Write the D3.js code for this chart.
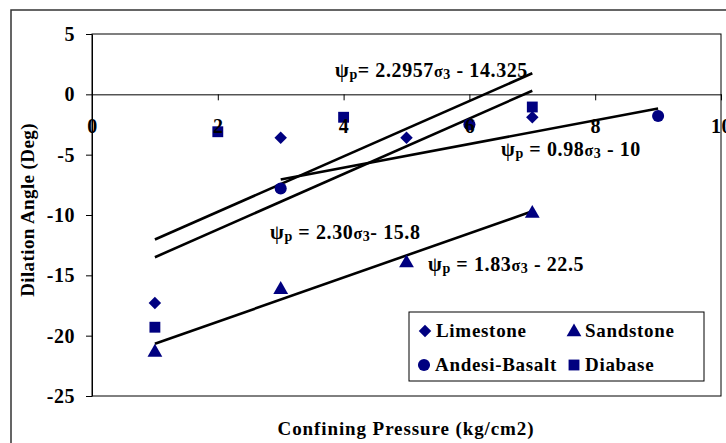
<!DOCTYPE html>
<html>
<head>
<meta charset="UTF-8">
<title></title>
<style>
    body { margin: 0; background: #fff; }
    text { font-family: "Liberation Serif", "Times New Roman", serif; font-weight: bold; }
</style>
</head>
<body>
<div id="chart"></div>
<script src="https://cdn.jsdelivr.net/npm/d3@7/dist/d3.min.js"></script>
<script>
    // data
    var limestoneX = [1, 3, 5, 7];
    var limestoneY = [-17.3, -3.6, -3.6, -1.9];
    var sandstoneX = [1, 3, 5, 7];
    var sandstoneY = [-21.3, -16.1, -13.9, -9.8];
    var andesiteX = [3, 6, 9];
    var andesiteY = [-7.8, -2.5, -1.8];
    var diabaseX = [1, 2, 4, 7];
    var diabaseY = [-19.3, -3.1, -1.9, -1.05];

    // trend lines: slope, intercept, x range
    var trendSlope = [2.2957, 2.30, 0.98, 1.83];
    var trendIntercept = [-14.325, -15.8, -10, -22.5];
    var trendFrom = [1, 1, 3, 1];
    var trendTo = [7, 7, 9, 7];

    var xTicks = [0, 2, 4, 6, 8, 10];
    var yTicks = [-25, -20, -15, -10, -5, 0, 5];

    var width = 726, height = 443;
    var svg = d3.select("#chart").append("svg")
        .attr("width", width)
        .attr("height", height);

    // outer chart frame (runs off the right / bottom edge)
    svg.append("rect")
        .attr("x", 11).attr("y", 10)
        .attr("width", 740).attr("height", 460)
        .attr("fill", "#fff")
        .attr("stroke", "#333").attr("stroke-width", 1.5);

    var x = d3.scaleLinear().domain([0, 10]).range([92, 721]);
    var y = d3.scaleLinear().domain([-25, 5]).range([396, 34]);

    // plot area
    svg.append("rect")
        .attr("x", 92).attr("y", 34)
        .attr("width", 721 - 92).attr("height", 396 - 34)
        .attr("fill", "#fff")
        .attr("stroke", "#000").attr("stroke-width", 1);

    var plain = function (d) { return String(d); };

    // y axis
    var yAxis = svg.append("g")
        .attr("transform", "translate(92,0)")
        .call(d3.axisLeft(y).tickValues(yTicks).tickFormat(plain).tickSize(6).tickPadding(11).tickSizeOuter(0));
    yAxis.select(".domain").attr("stroke", "#000");
    yAxis.selectAll("text").style("font-size", "20px").style("letter-spacing", "0.5px").attr("fill", "#000");

    // trend lines
    var lineGen = d3.line().x(function (d) { return x(d[0]); }).y(function (d) { return y(d[1]); });
    for (var i = 0; i < trendSlope.length; i++) {
        var pts = [trendFrom[i], trendTo[i]].map(function (v) {
            return [v, trendSlope[i] * v + trendIntercept[i]];
        });
        svg.append("path")
            .attr("d", lineGen(pts))
            .attr("fill", "none")
            .attr("stroke", "#000")
            .attr("stroke-width", 2.6);
    }

    // markers
    var navy = "#000080";
    var shapes = {
        diamond: d3.symbol().type(d3.symbolSquare).size(78),
        triangle: d3.symbol().type(d3.symbolTriangle).size(95),
        circle: d3.symbol().type(d3.symbolCircle).size(115),
        square: d3.symbol().type(d3.symbolSquare).size(118)
    };
    var series = [
        {name: "Limestone", xs: limestoneX, ys: limestoneY, shape: "diamond"},
        {name: "Sandstone", xs: sandstoneX, ys: sandstoneY, shape: "triangle"},
        {name: "Andesi-Basalt", xs: andesiteX, ys: andesiteY, shape: "circle"},
        {name: "Diabase", xs: diabaseX, ys: diabaseY, shape: "square"}
    ];

    function place(s, px, py) {
        var t = "translate(" + px + "," + py + ")";
        if (s === "diamond") t += " rotate(45)";
        if (s === "triangle") t += " translate(0,1)";
        return t;
    }

    series.forEach(function (s) {
        svg.append("g").selectAll("path")
            .data(s.xs.map(function (v, k) { return [v, s.ys[k]]; }))
            .join("path")
            .attr("d", shapes[s.shape])
            .attr("fill", navy)
            .attr("transform", function (d) { return place(s.shape, x(d[0]), y(d[1])); });
    });

    // x axis on the zero line, labels drawn over the markers
    var xAxis = svg.append("g")
        .attr("transform", "translate(0," + y(0) + ")")
        .call(d3.axisBottom(x).tickValues(xTicks).tickFormat(plain).tickSize(6).tickPadding(18).tickSizeOuter(0));
    xAxis.select(".domain").attr("stroke", "#000");
    xAxis.selectAll("text").style("font-size", "20px").style("letter-spacing", "0.5px").attr("fill", "#000");

    // equation labels: [text, kind] kind 0 normal, 1 subscript, 2 sigma
    var eqs = [
        {x: 335, y: 77, parts: [["ψ", 0], ["p", 1], ["= 2.2957", 0], ["σ", 2], ["3", 1], [" - 14.325", 0]]},
        {x: 501, y: 156, parts: [["ψ", 0], ["p", 1], [" = 0.98", 0], ["σ", 2], ["3", 1], [" - 10", 0]]},
        {x: 270, y: 239, parts: [["ψ", 0], ["p", 1], [" = 2.30", 0], ["σ", 2], ["3", 1], ["- 15.8", 0]]},
        {x: 428, y: 271, parts: [["ψ", 0], ["p", 1], [" = 1.83", 0], ["σ", 2], ["3", 1], [" - 22.5", 0]]}
    ];
    eqs.forEach(function (e) {
        var t = svg.append("text")
            .attr("x", e.x).attr("y", e.y)
            .attr("fill", "#000")
            .style("font-size", "20px")
            .style("letter-spacing", "0.6px")
            .attr("xml:space", "preserve");
        e.parts.forEach(function (p, k) {
            var prev = e.parts[k - 1];
            var sp = t.append("tspan").text(p[0]);
            var dy = 0;
            if (p[1] === 1 && (!prev || prev[1] !== 1)) dy = 2;
            if (p[1] !== 1 && prev && prev[1] === 1) dy = -2;
            sp.attr("dy", dy);
            if (p[1] === 1) sp.style("font-size", "14px");
            if (p[1] === 2) sp.style("font-size", "16px");
        });
    });

    // legend
    svg.append("rect")
        .attr("x", 409).attr("y", 312)
        .attr("width", 704 - 409).attr("height", 381 - 312)
        .attr("fill", "#fff")
        .attr("stroke", "#000").attr("stroke-width", 1);
    var legX = [425, 574, 424, 574];
    var legY = [331, 331, 365, 365];
    series.forEach(function (s, k) {
        svg.append("path")
            .attr("d", shapes[s.shape])
            .attr("fill", navy)
            .attr("transform", place(s.shape, legX[k], legY[k]));
        svg.append("text")
            .attr("x", legX[k] + 11).attr("y", legY[k] + 6)
            .attr("fill", "#000")
            .style("font-size", "19px")
            .style("letter-spacing", "0.7px")
            .text(s.name);
    });

    // axis titles
    svg.append("text")
        .attr("x", 406).attr("y", 435)
        .attr("text-anchor", "middle")
        .attr("fill", "#000")
        .style("font-size", "19px")
        .style("letter-spacing", "0.9px")
        .text("Confining Pressure (kg/cm2)");
    svg.append("text")
        .attr("transform", "translate(34,210) rotate(-90)")
        .attr("text-anchor", "middle")
        .attr("fill", "#000")
        .style("font-size", "19px")
        .style("letter-spacing", "0.4px")
        .text("Dilation Angle (Deg)");
</script>
</body>
</html>
